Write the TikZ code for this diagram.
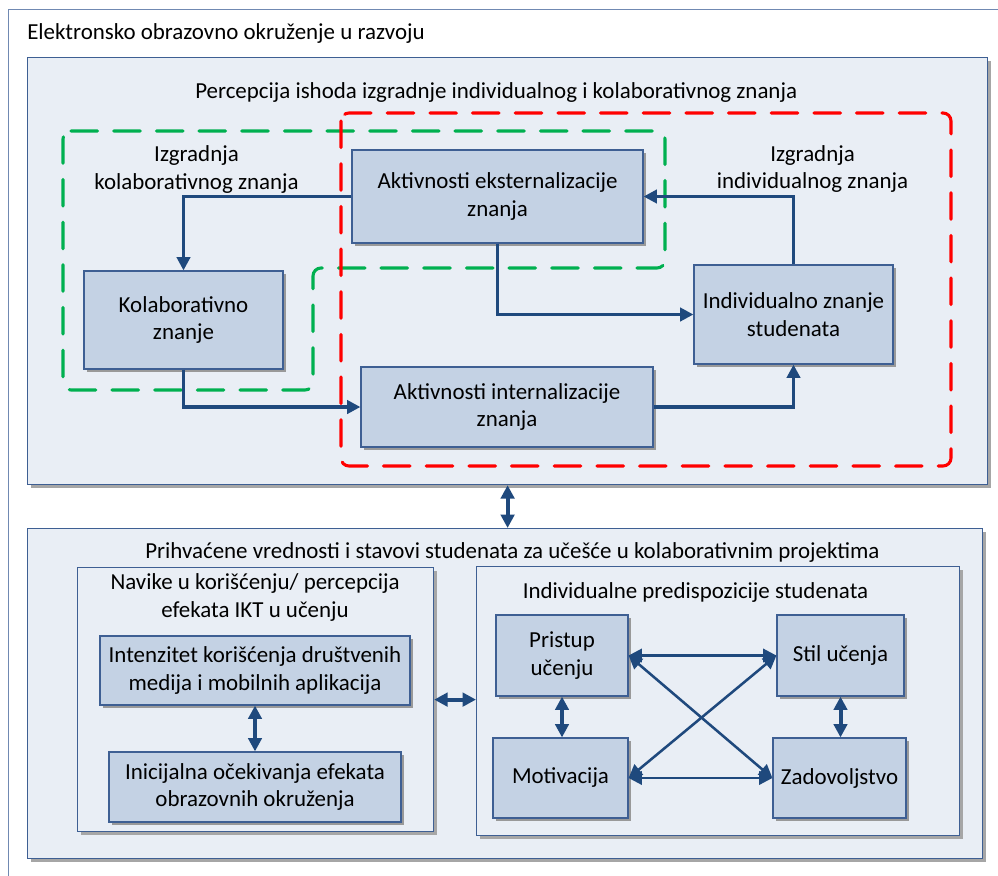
\documentclass[tikz,border=0pt]{standalone}
\usepackage{fontspec}
\setmainfont{Carlito}
\usetikzlibrary{arrows.meta,shadows}

\definecolor{arrowblue}{HTML}{1F497D}
\definecolor{boxfill}{HTML}{C4D2E4}
\definecolor{boxline}{HTML}{3E5F93}
\definecolor{panelfill}{HTML}{E9EEF5}
\definecolor{frameline}{HTML}{7089B2}
\definecolor{dashred}{HTML}{FF0000}
\definecolor{dashgreen}{HTML}{00B050}

\tikzset{
  sz/.style 2 args={minimum width=#1*0.75pt, minimum height=#2*0.75pt},
  box/.style={draw=boxline, line width=0.9pt, fill=boxfill, inner sep=0pt, align=center,
    general shadow={shadow xshift=2.2pt, shadow yshift=-2.2pt, fill=black!40}},
  panel/.style={draw=boxline, line width=0.9pt, fill=panelfill, inner sep=0pt,
    general shadow={shadow xshift=2.2pt, shadow yshift=-2.2pt, fill=black!35}},
  txt/.style={align=center, inner sep=0pt},
  tip/.tip={Triangle[length=10pt,width=10pt]},
  flow/.style={draw=arrowblue, line width=2.4pt, -tip},
  both/.style={draw=arrowblue, line width=3pt, tip-tip},
  link/.style={draw=arrowblue, line width=1.9pt, {Triangle[length=10pt,width=10pt]}-{Triangle[length=10pt,width=10pt]}},
  zone/.style={line width=2.3pt, dash pattern=on 20pt off 12pt, rounded corners=6pt, line cap=round},
}

\begin{document}
\begin{tikzpicture}[x=0.75pt,y=-0.75pt,
  every node/.append style={font=\fontsize{17.2}{20.5}\selectfont}]
\useasboundingbox (0,0) rectangle (998,875);
\clip (0,0) rectangle (998,875);
\fill[white] (0,0) rectangle (998,875);

% outer frame (runs past the right and bottom edges)
\node[draw=frameline, line width=0.9pt, fill=white, inner sep=0pt, sz={1010}{900},
  anchor=north west] (env) at (8,9) {};
\node[txt, anchor=base west] (envtitle) at (27,39) {Elektronsko obrazovno okruženje u razvoju};

% ---------- upper panel ----------
\node[panel, sz={960}{427}, anchor=north west] (top) at (27,57) {};
\node[txt, anchor=base west] (toptitle) at (195,98)
  {Percepcija ishoda izgradnje individualnog i kolaborativnog znanja};

% knowledge-building zones
\draw[zone, draw=dashgreen] (63,131) -- (665,131) -- (665,268) -- (313,268)
  -- (313,390) -- (63,390) -- cycle;
\draw[zone, draw=dashred] (341,113) rectangle (951,466);

\node[txt] (kolgrp) at (196.5,169.5) {Izgradnja\\kolaborativnog znanja};
\node[txt] (indgrp) at (812.5,169) {Izgradnja\\individualnog znanja};

\node[box, sz={291}{93}] (ext) at (497.5,196.5) {Aktivnosti eksternalizacije\\znanja};
\node[box, sz={199}{98}] (kol) at (183.5,320) {Kolaborativno\\znanje};
\node[box, sz={199}{99}] (ind) at (793.5,314.5) {Individualno znanje\\studenata};
\node[box, sz={292}{80}] (int) at (507,407) {Aktivnosti internalizacije\\znanja};

\draw[flow] (ext.west) -| (kol.north);
\draw[flow] (kol.south) |- (int.west);
\draw[flow] (ext.south) |- (ind.west);
\draw[flow] (int.east) -| (ind.south);
\draw[flow] (ind.north) |- (ext.east);

% ---------- lower panel ----------
\node[panel, sz={955}{330}, anchor=north west] (bot) at (27,528) {};
\node[txt, anchor=base west] (bottitle) at (145,558)
  {Prihvaćene vrednosti i stavovi studenata za učešće u kolaborativnim projektima};

\draw[both] (top.south) -- (top.south |- bot.north);

% habits group
\node[panel, sz={356}{264}, anchor=north west] (nav) at (77,567) {};
\node[txt] (navtitle) at (255,597.5) {Navike u korišćenju/ percepcija\\efekata IKT u učenju};
\node[box, sz={310}{69}] (intz) at (255,670.5) {Intenzitet korišćenja društvenih\\medija i mobilnih aplikacija};
\node[box, sz={292}{70}] (inic) at (255,787) {Inicijalna očekivanja efekata\\obrazovnih okruženja};
\draw[both] (intz.south) -- (inic.north);

% predispositions group
\node[panel, sz={483}{269}, anchor=north west] (pred) at (476,566) {};
\node[txt, anchor=base] (predtitle) at (695.5,598) {Individualne predispozicije studenata};
\node[box, sz={132}{81}] (pri) at (562,655.5) {Pristup\\učenju};
\node[box, sz={127}{81}] (stil) at (840.5,655.5) {Stil učenja};
\node[box, sz={135}{80}] (mot) at (560.5,778) {Motivacija};
\node[box, sz={133}{80}] (zad) at (839.5,778) {Zadovoljstvo};

\draw[both] (nav.east) -- (nav.east -| pred.west);
\draw[both] (pri.south) -- (pri.south |- mot.north);
\draw[both] (stil.south) -- (stil.south |- zad.north);
\draw[link] (pri.east) -- (stil.west);
\draw[link] (mot.east) -- (zad.west);
\draw[link] (pri.east) -- (zad.west);
\draw[link] (mot.east) -- (stil.west);
\end{tikzpicture}
\end{document}
